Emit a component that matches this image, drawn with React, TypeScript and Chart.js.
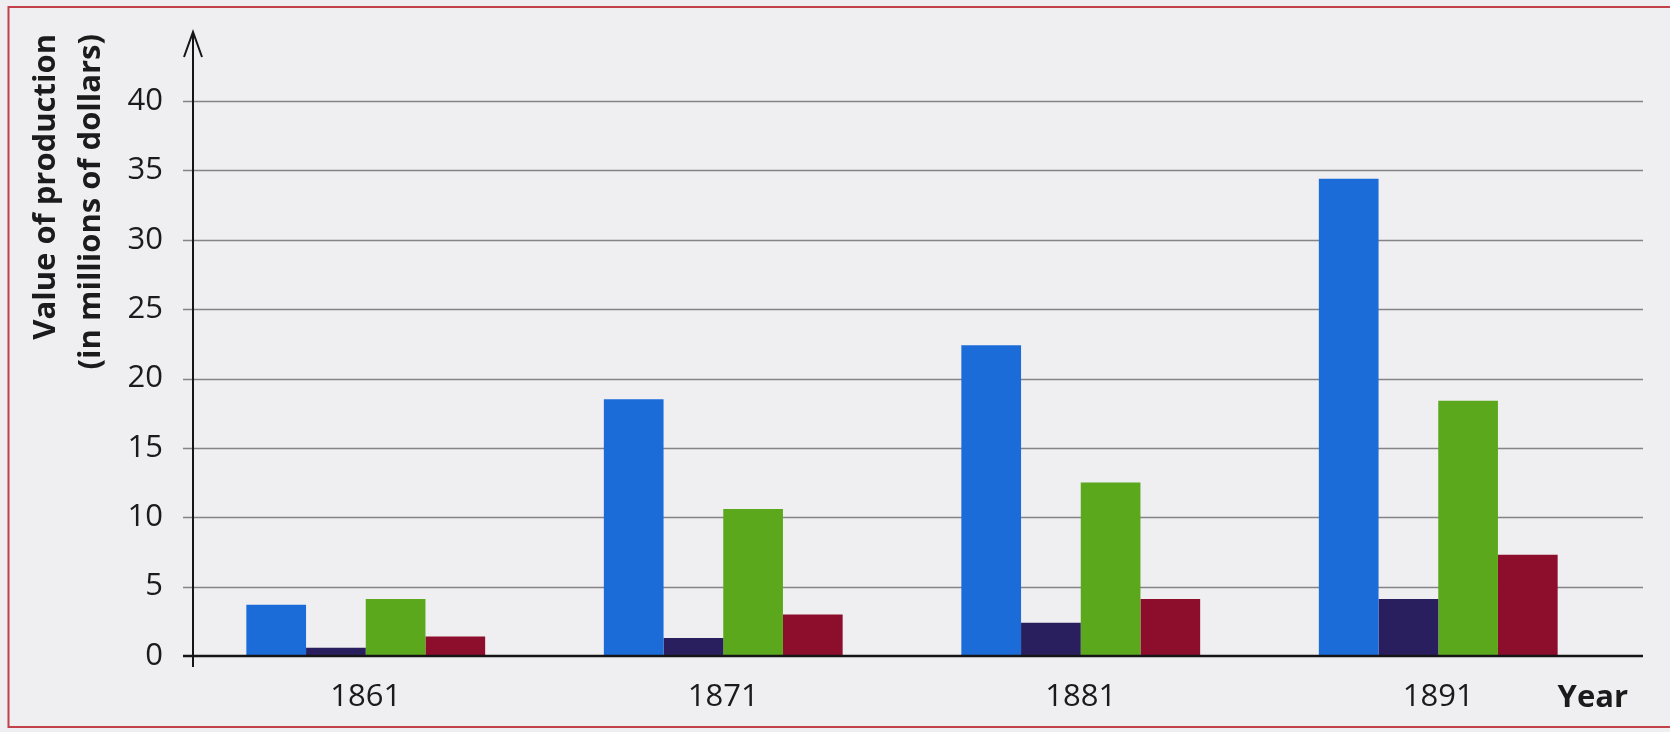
import React, { useEffect, useRef } from 'react';
import { Chart, registerables } from 'chart.js';

Chart.register(...registerables);

// ---- data ----
const categories = ['1861', '1871', '1881', '1891'];
const seriesBlue = [3.7, 18.5, 22.4, 34.4];
const seriesNavy = [0.6, 1.3, 2.4, 4.1];
const seriesGreen = [4.1, 10.6, 12.5, 18.4];
const seriesRed = [1.4, 3.0, 4.1, 7.3];
const yTickValues = [0, 5, 10, 15, 20, 25, 30, 35, 40];
const yTitleLines = ['Value of production', '(in millions of dollars)'];
const xTitle = 'Year';

const FONT = '"Open Sans", "Noto Sans", sans-serif';
const BG = '#efeef1';
const TEXT = '#1b1b1b';

const decor = {
  id: 'decor',
  beforeDraw(chart: any) {
    const { ctx, width, height } = chart;
    ctx.save();
    ctx.fillStyle = BG;
    ctx.fillRect(0, 0, width, height);
    // red frame
    ctx.strokeStyle = '#c2414b';
    ctx.lineWidth = 2;
    ctx.beginPath();
    ctx.moveTo(width + 5, 7);
    ctx.lineTo(8.5, 7);
    ctx.lineTo(8.5, 727);
    ctx.lineTo(width + 5, 727);
    ctx.stroke();
    ctx.restore();
  },
  beforeDatasetsDraw(chart: any) {
    const { ctx, chartArea } = chart;
    const y = chart.scales.y;
    ctx.save();
    ctx.strokeStyle = '#858387';
    ctx.lineWidth = 1.5;
    y.ticks.forEach((t: any) => {
      if (t.value === 0) return;
      const py = Math.round(y.getPixelForValue(t.value)) + 0.5;
      ctx.beginPath();
      ctx.moveTo(chartArea.left - 4, py);
      ctx.lineTo(chartArea.right + 26, py);
      ctx.stroke();
    });
    ctx.restore();
  },
  afterDatasetsDraw(chart: any) {
    const { ctx, chartArea } = chart;
    const y = chart.scales.y;
    const x = chart.scales.x;
    ctx.save();
    // zero line
    const y0 = y.getPixelForValue(0);
    ctx.strokeStyle = '#151515';
    ctx.lineWidth = 2.5;
    ctx.beginPath();
    ctx.moveTo(chartArea.left - 4, y0);
    ctx.lineTo(chartArea.right + 26, y0);
    ctx.stroke();
    // vertical axis with open arrow
    const ax = chartArea.left + 6;
    const topY = chartArea.top - 69;
    ctx.lineWidth = 2;
    ctx.beginPath();
    ctx.moveTo(ax, y0 + 11);
    ctx.lineTo(ax, topY);
    ctx.stroke();
    ctx.beginPath();
    ctx.moveTo(ax - 9, topY + 25);
    ctx.lineTo(ax, topY);
    ctx.lineTo(ax + 9, topY + 25);
    ctx.stroke();
    // y title (rotated, two lines, aligned at the top)
    ctx.fillStyle = TEXT;
    ctx.font = `bold 31px ${FONT}`;
    ctx.textAlign = 'right';
    ctx.textBaseline = 'middle';
    const anchorY = chartArea.top - 67;
    const xs = [46, 91];
    yTitleLines.forEach((line, i) => {
      ctx.save();
      ctx.translate(xs[i], anchorY);
      ctx.rotate(-Math.PI / 2);
      ctx.fillText(line, 0, 0);
      ctx.restore();
    });
    // x title
    ctx.font = `bold 31px ${FONT}`;
    ctx.textAlign = 'right';
    ctx.fillText(xTitle, chartArea.right + 11, x.top + 42);
    ctx.restore();
  },
};

export default function App() {
  const ref = useRef<HTMLCanvasElement | null>(null);

  useEffect(() => {
    if (!ref.current) return;
    const chart = new Chart(ref.current, {
      type: 'bar',
      data: {
        labels: categories,
        datasets: [
          { label: 'Series 1', data: seriesBlue, backgroundColor: '#1b6bd9' },
          { label: 'Series 2', data: seriesNavy, backgroundColor: '#2a1f5e' },
          { label: 'Series 3', data: seriesGreen, backgroundColor: '#5ba81d' },
          { label: 'Series 4', data: seriesRed, backgroundColor: '#8d0e2c' },
        ],
      },
      options: {
        responsive: false,
        animation: false,
        layout: { padding: { left: 0, right: 53, top: 101, bottom: 0 } },
        datasets: {
          bar: { barPercentage: 1, categoryPercentage: 0.668, borderWidth: 0 },
        },
        plugins: {
          legend: { display: false },
          tooltip: { enabled: false },
          title: { display: false },
        },
        scales: {
          x: {
            grid: { display: false, drawTicks: false },
            border: { display: false },
            ticks: {
              color: TEXT,
              font: { family: FONT, size: 31 },
              padding: 23,
              maxRotation: 0,
            },
            afterFit: (s: any) => {
              s.height = 76;
            },
          },
          y: {
            min: 0,
            max: 40,
            grid: { display: false, drawTicks: false },
            border: { display: false },
            afterBuildTicks: (s: any) => {
              s.ticks = yTickValues.map((v) => ({ value: v }));
            },
            ticks: {
              color: TEXT,
              font: { family: FONT, size: 31 },
              padding: 24,
            },
            afterFit: (s: any) => {
              s.width = 187;
            },
          },
        },
      },
      plugins: [decor],
    });
    return () => chart.destroy();
  }, []);

  return (
    <div style={{ position: 'fixed', left: 0, top: 0, width: 1670, height: 732, background: BG }}>
      <canvas ref={ref} width={1670} height={732} style={{ display: 'block', width: 1670, height: 732 }} />
    </div>
  );
}
